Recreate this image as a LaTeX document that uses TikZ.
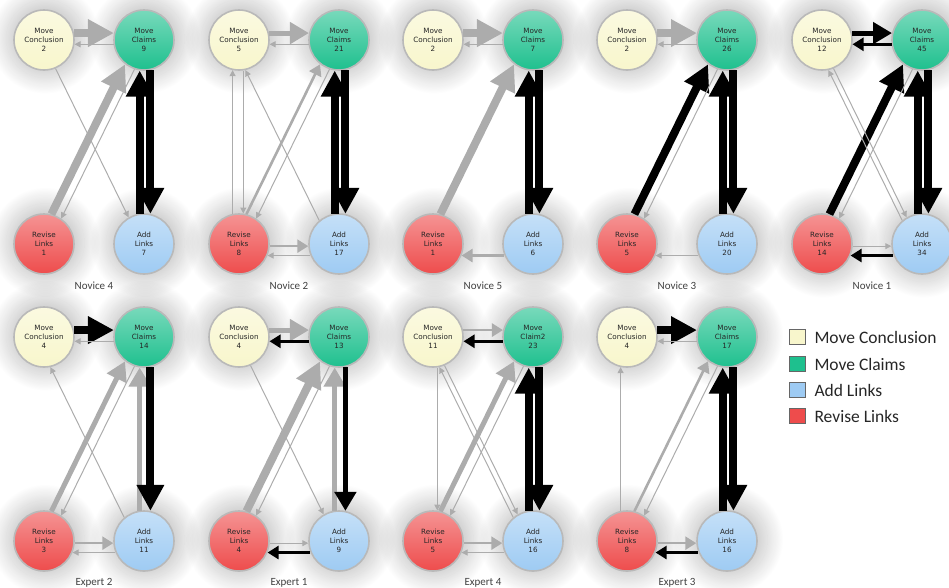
\documentclass[tikz,border=0pt]{standalone}
\usepackage{fontspec}
\newfontfamily\nodefont{DejaVu Sans}
\newfontfamily\capfont{Carlito}
\usetikzlibrary{arrows.meta,calc,shadows.blur}
\definecolor{concl}{RGB}{248,246,204}
\definecolor{claims}{RGB}{30,192,142}
\definecolor{addl}{RGB}{158,203,243}
\definecolor{revl}{RGB}{238,76,76}
\definecolor{flowgray}{RGB}{172,172,172}
\tikzset{
	state/.style={
			circle, minimum size=60pt, inner sep=0pt, align=center,
			draw=gray!55, line width=1.6pt,
			top color=#1!60!white, bottom color=#1,
			font=\nodefont\fontsize{7.2}{9}\selectfont, text=black!85,
			blur shadow={shadow xshift=1pt, shadow yshift=1pt, shadow blur radius=13pt, shadow scale=1.3, shadow opacity=22, shadow blur steps=30}
		},
	gry/.style={draw=flowgray},
	blk/.style={draw=black},
	w1/.style={line width=1pt, -{Triangle[length=6pt, width=6pt]}},
	w2/.style={line width=2.6pt, -{Triangle[length=11pt, width=13pt]}},
	w3/.style={line width=5pt, -{Triangle[length=19pt, width=21pt]}},
	w4/.style={line width=8pt, -{Triangle[length=26pt, width=26pt]}},
	legbox/.style={draw=black!60, line width=0.6pt, minimum width=16pt, minimum height=15pt, inner sep=0pt},
	legtext/.style={anchor=west, inner sep=0pt, font=\capfont\fontsize{17.5}{20}\selectfont, text=black!85}
}
% one panel: id, x, y, conclusion, claims text, revise, add, caption
\newcommand{\statepanel}[8]{%
	\node[state=concl] (c#1) at (#2,#3) {Move\\Conclusion\\#4};
	\node[state=claims] (m#1) at (#2+100,#3) {Move\\#5};
	\node[state=revl] (r#1) at (#2,#3+204) {Revise\\Links\\#6};
	\node[state=addl] (a#1) at (#2+100,#3+204) {Add\\Links\\#7};
	\node[font=\capfont\fontsize{11}{13}\selectfont, text=black!75] (lab#1) at (#2+50,#3+246) {#8};
}

\begin{document}
\begin{tikzpicture}[x=1pt,y=-1pt]
	\useasboundingbox (0,0) rectangle (949,587);

	\statepanel{n4}{44}{40}{2}{Claims\\9}{1}{7}{Novice 4}
	\statepanel{n2}{239}{40}{5}{Claims\\21}{8}{17}{Novice 2}
	\statepanel{n5}{433}{40}{2}{Claims\\7}{1}{6}{Novice 5}
	\statepanel{n3}{627}{40}{2}{Claims\\26}{5}{20}{Novice 3}
	\statepanel{n1}{822}{40}{12}{Claims\\45}{14}{34}{Novice 1}
	\statepanel{e2}{44}{337}{4}{Claims\\14}{3}{11}{Expert 2}
	\statepanel{e1}{239}{337}{4}{Claims\\13}{4}{9}{Expert 1}
	\statepanel{e4}{433}{337}{11}{Claim2\\23}{5}{16}{Expert 4}
	\statepanel{e3}{627}{337}{4}{Claims\\17}{8}{16}{Expert 3}

	% Novice 4
	\draw[gry,w4] (cn4.13) -- (mn4.167);
	\draw[gry,w1] (mn4.188) -- (cn4.352);
	\draw[gry,w4] (rn4.76) -- (mn4.232);
	\draw[gry,w1] (mn4.252) -- (rn4.56);
	\draw[gry,w1] (cn4.292) -- (an4.120);
	\draw[blk,w4] (an4.98) -- (mn4.262);
	\draw[blk,w4] (mn4.282) -- (an4.78);

	% Novice 2
	\draw[gry,w3] (cn2.13) -- (mn2.167);
	\draw[gry,w1] (mn2.188) -- (cn2.352);
	\draw[gry,w1] (rn2.102) -- (cn2.258);
	\draw[gry,w1] (cn2.278) -- (rn2.82);
	\draw[gry,w2] (rn2.76) -- (mn2.232);
	\draw[gry,w1] (mn2.252) -- (rn2.56);
	\draw[gry,w1] (an2.130) -- (cn2.282);
	\draw[blk,w4] (an2.98) -- (mn2.262);
	\draw[blk,w4] (mn2.282) -- (an2.78);
	\draw[gry,w2] (rn2.-4) -- (an2.184);
	\draw[gry,w1] (an2.202) -- (rn2.338);

	% Novice 5
	\draw[gry,w4] (cn5.13) -- (mn5.167);
	\draw[gry,w1] (mn5.188) -- (cn5.352);
	\draw[gry,w4] (rn5.76) -- (mn5.232);
	\draw[blk,w4] (an5.98) -- (mn5.262);
	\draw[blk,w4] (mn5.282) -- (an5.78);
	\draw[gry,w2] (an5.202) -- (rn5.338);

	% Novice 3
	\draw[gry,w4] (cn3.13) -- (mn3.167);
	\draw[gry,w1] (mn3.188) -- (cn3.352);
	\draw[blk,w4] (rn3.76) -- (mn3.232);
	\draw[gry,w1] (mn3.252) -- (rn3.56);
	\draw[blk,w4] (an3.98) -- (mn3.262);
	\draw[blk,w4] (mn3.282) -- (an3.78);
	\draw[gry,w1] (an3.202) -- (rn3.338);

	% Novice 1
	\draw[blk,w3] (cn1.13) -- (mn1.167);
	\draw[blk,w2] (mn1.188) -- (cn1.352);
	\draw[blk,w4] (rn1.76) -- (mn1.232);
	\draw[gry,w1] (mn1.252) -- (rn1.56);
	\draw[gry,w1] (cn1.292) -- (an1.120);
	\draw[gry,w1] (an1.130) -- (cn1.282);
	\draw[blk,w4] (an1.98) -- (mn1.262);
	\draw[blk,w4] (mn1.282) -- (an1.78);
	\draw[gry,w1] (rn1.-4) -- (an1.184);
	\draw[blk,w2] (an1.202) -- (rn1.338);

	% Expert 2
	\draw[blk,w4] (ce2.13) -- (me2.167);
	\draw[gry,w1] (me2.188) -- (ce2.352);
	\draw[gry,w3] (re2.76) -- (me2.232);
	\draw[gry,w1] (me2.252) -- (re2.56);
	\draw[gry,w1] (ae2.130) -- (ce2.282);
	\draw[gry,w3] (ae2.98) -- (me2.262);
	\draw[blk,w4] (me2.282) -- (ae2.78);
	\draw[gry,w2] (re2.-4) -- (ae2.184);
	\draw[gry,w1] (ae2.202) -- (re2.338);

	% Expert 1
	\draw[gry,w3] (ce1.13) -- (me1.167);
	\draw[blk,w2] (me1.188) -- (ce1.352);
	\draw[gry,w4] (re1.76) -- (me1.232);
	\draw[gry,w1] (me1.252) -- (re1.56);
	\draw[gry,w1] (ce1.292) -- (ae1.120);
	\draw[gry,w3] (ae1.98) -- (me1.262);
	\draw[blk,w3] (me1.282) -- (ae1.78);
	\draw[gry,w1] (re1.-4) -- (ae1.184);
	\draw[blk,w2] (ae1.202) -- (re1.338);

	% Expert 4
	\draw[gry,w2] (ce4.13) -- (me4.167);
	\draw[blk,w2] (me4.188) -- (ce4.352);
	\draw[gry,w1] (ce4.278) -- (re4.82);
	\draw[gry,w1] (ce4.292) -- (ae4.120);
	\draw[gry,w1] (ae4.130) -- (ce4.282);
	\draw[gry,w3] (re4.76) -- (me4.232);
	\draw[gry,w1] (me4.252) -- (re4.56);
	\draw[blk,w4] (ae4.98) -- (me4.262);
	\draw[blk,w4] (me4.282) -- (ae4.78);
	\draw[gry,w2] (re4.-4) -- (ae4.184);
	\draw[gry,w1] (ae4.202) -- (re4.338);

	% Expert 3
	\draw[blk,w4] (ce3.13) -- (me3.167);
	\draw[gry,w1] (me3.188) -- (ce3.352);
	\draw[gry,w1] (re3.102) -- (ce3.258);
	\draw[gry,w2] (re3.76) -- (me3.232);
	\draw[gry,w1] (me3.252) -- (re3.56);
	\draw[blk,w4] (ae3.98) -- (me3.262);
	\draw[blk,w4] (me3.282) -- (ae3.78);
	\draw[gry,w2] (re3.-4) -- (ae3.184);
	\draw[blk,w2] (ae3.202) -- (re3.338);

	% legend
	\node[legbox, fill=concl] (kc) at (797,337) {};
	\node[legbox, fill=claims] (km) at (797,364) {};
	\node[legbox, fill=addl] (ka) at (797,390) {};
	\node[legbox, fill=revl] (kr) at (797,416) {};
	\node[legtext] (tc) at ([xshift=9pt]kc.east) {Move Conclusion};
	\node[legtext] (tm) at ([xshift=9pt]km.east) {Move Claims};
	\node[legtext] (ta) at ([xshift=9pt]ka.east) {Add Links};
	\node[legtext] (tr) at ([xshift=9pt]kr.east) {Revise Links};
\end{tikzpicture}
\end{document}
